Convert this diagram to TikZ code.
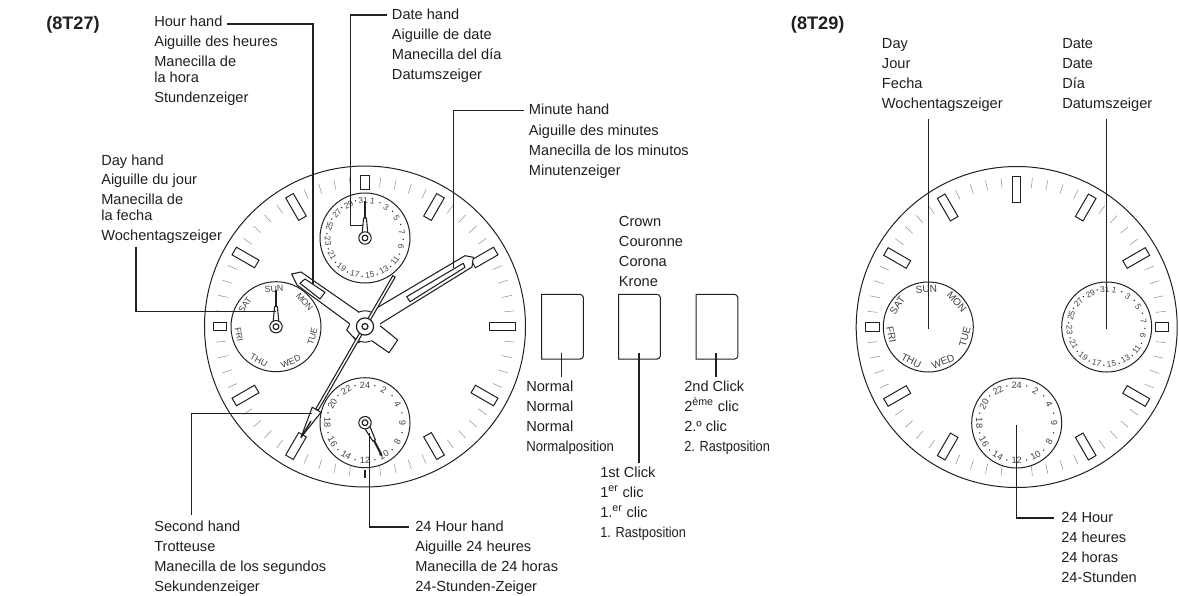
\documentclass[tikz,border=0pt]{standalone}
\usepackage{fontspec}
\setmainfont{Liberation Sans}
\newfontfamily\cond[FakeStretch=0.9]{Liberation Sans}
\newfontfamily\condb[FakeStretch=0.875]{Liberation Sans}
\definecolor{ink}{HTML}{231F20}
\definecolor{tickc}{HTML}{8A8889}
\tikzset{
  lab/.style={anchor=base west,inner sep=0pt,text height=7.1pt,text depth=1.1pt,text=ink,font=\fontsize{10.95}{13}\selectfont},
  ttl/.style={anchor=base west,inner sep=0pt,text=ink,font=\fontsize{13.6}{16}\selectfont\bfseries},
  lead/.style={draw=ink,line width=1.1pt},
  rimline/.style={draw=ink,line width=.75pt},
  minutick/.style={draw=tickc,line width=.35pt},
  handline/.style={draw=ink,line width=.8pt,fill=white,line join=round},
  dialnum/.style={inner sep=0pt,text=ink!85},
}
\newcommand\lbl[3]{\foreach \yy/\tx [count=\i from 0] in {#3} {\node[lab] (#1\i) at (#2,\yy) {\tx};}}
% watch face: centre x,y
\newcommand\face[2]{%
  \fill[white] (#1,#2) circle[radius=160.5];
  \draw[rimline] (#1,#2) circle[radius=160.5];
  \begin{scope}[shift={(#1,#2)}]
    \foreach \b in {0,30,...,330} {\foreach \o in {6,12,18,24} {
      \draw[minutick,rotate=-\b-\o] (0,-140) -- (0,-150);}}
    \foreach \b in {30,60,120,150,210,240,300,330} {
      \draw[rimline,rotate=-\b] (-4.4,-151) rectangle (4.4,-125);}
    \draw[draw=ink,line width=1.1pt] (0,143.5) -- (0,151);
  \end{scope}}
\newcommand\subcirc[2]{\draw[rimline,fill=white] (#1,#2) circle[radius=45];}
\newcommand\numat[5]{% prefix-name, angle, text, size, radius
  \pgfmathsetmacro\rr{cos(#2)>0.001 ? -(#2) : 180-(#2)}
  \node[dialnum,rotate=\rr,font=\fontsize{#4}{#4}\selectfont] (#1) at ({#5*sin(#2)},{-#5*cos(#2)}) {#3};}
\newcommand\dotat[1]{\fill[ink] ({38.3*sin(#1)},{-38.3*cos(#1)}) circle[radius=.75];}
\newcommand\datedial[4]{% x y prefix size
  \subcirc{#1}{#2}
  \begin{scope}[shift={(#1,#2)}]
    \foreach \v [count=\i from 0] in {1,3,...,31} {
      \pgfmathsetmacro\ang{11.4+23.05*\i}
      \numat{#3n\v}{\ang}{\v}{#4}{37.3}
      \pgfmathsetmacro\uu{\ang+11.5}
      \ifnum\v<31 \dotat{\uu}\fi}
  \end{scope}}
\newcommand\hourdial[4]{%
  \subcirc{#1}{#2}
  \begin{scope}[shift={(#1,#2)}]
    \foreach \v [count=\i from 1] in {2,4,...,24} {
      \pgfmathsetmacro\ang{30*\i}
      \numat{#3n\v}{\ang}{\v}{#4}{37.5}
      \pgfmathsetmacro\uu{\ang-15}
      \dotat{\uu}}
  \end{scope}}
\newcommand\daydial[4]{%
  \subcirc{#1}{#2}
  \begin{scope}[shift={(#1,#2)}]
    \foreach \v/\ang in {SUN/357,MON/49,TUE/105,WED/157,THU/207,FRI/258,SAT/305} {
      \numat{#3n\v}{\ang}{\v}{#4}{37.8}}
  \end{scope}}
\newcommand\subhand[3]{%
  \begin{scope}[shift={(#1,#2)},rotate=-#3]
    \draw[ink,line width=1.5pt] (0,-20) -- (0,-37);
    \draw[handline] (-2.8,-5) -- (-1.4,-20) -- (1.4,-20) -- (2.8,-5) -- cycle;
    \draw[handline] (0,0) circle[radius=6.2];
    \draw[handline,line width=.9pt] (0,0) circle[radius=2.9];
  \end{scope}}
\newcommand\crownbox[1]{%
  \draw[rimline] (#1,294.3) -- (#1+38.5,294.3) to[out=0,in=120] (#1+41.6,297.3) -- (#1+41.6,356) to[out=-90,in=0] (#1+38.5,359) -- (#1,359) -- cycle;}
\begin{document}
\begin{tikzpicture}[x=.75pt,y=-.75pt]
\useasboundingbox (0,0) rectangle (1179,596);
\fill[white] (0,0) rectangle (1179,596);

%% ---------- left watch ----------
\face{365}{326.5}
\draw[rimline,fill=white] (360.6,175.5) rectangle (369.4,189);
\draw[rimline] (489.7,322.2) rectangle (515.7,330.8);
\draw[rimline] (213,322.2) rectangle (226.7,330.8);
\datedial{365}{238}{la}{6.2}
\daydial{276}{326.7}{lb}{6.6}
\hourdial{365}{422.7}{lc}{6.8}

% hands
\coordinate (c) at (365,326.5);
\draw[handline] (350,324) -- (346.7,330) -- (358.3,342.7) -- (372,335) -- cycle;
\draw[handline] (380,325.7) -- (397.7,340) -- (389,352.7) -- (370.7,340) -- (360,330) -- cycle;
\draw[handline] (373.3,310) -- (465,255.7) -- (473.3,257.3) -- (472,267) -- (378.3,325) -- (365,330) -- cycle;
\draw[handline] (406.7,296.7) -- (463.3,263.3) -- (465,267.3) -- (410,301.7) -- cycle;
\draw[handline] (291.7,274) -- (301,272) -- (358.3,311.7) -- (365,326) -- (350,324) -- (297,285) -- cycle;
\draw[handline] (300,283.3) -- (305,279) -- (325,292.3) -- (320,299) -- cycle;
\fill[white] (c) circle[radius=15.2];
\draw[rimline] (c) ++(-65:15.7) arc[start angle=-65,end angle=-114,radius=15.7];
\draw[rimline] (c) ++(141:15.7) arc[start angle=141,end angle=70,radius=15.7];
\draw[handline] (395.2,277) -- (392.8,275.6) -- (315.8,408.9) -- (318.2,410.3) -- cycle;
\draw[handline] (312.2,407.2) -- (321,412.4) -- (301,437.4) -- cycle;
\draw[ink,line width=1pt] (311,421) -- (301,437.4);
\draw[handline,line width=.9pt] (c) circle[radius=8.6];
\draw[handline,line width=.9pt] (c) circle[radius=3];
\subhand{365}{238}{0}
\subhand{276}{326.7}{0}
\subhand{365}{422.7}{153}

% crown
\crownbox{541.7}
\crownbox{618.7}
\crownbox{696.2}

% labels
\node[ttl] (t27) at (46,29.7) {(8T27)};
\lbl{hr}{154}{26.5/Hour hand,46.5/Aiguille des heures,66.5/Manecilla de,82.5/la hora,102.5/Stundenzeiger}
\lbl{dy}{101}{165/Day hand,184.7/Aiguille du jour,204.5/Manecilla de,220.5/la fecha,240.5/Wochentagszeiger}
\lbl{dt}{391.7}{19/Date hand,39/Aiguille de date,59/Manecilla del día,79/Datumszeiger}
\lbl{mn}{528.7}{114.7/Minute hand,135/Aiguille des minutes,155/Manecilla de los minutos,175/Minutenzeiger}
\lbl{cr}{618.7}{226/Crown,246/Couronne,266/Corona,286/Krone}
\lbl{nm}{526}{391/Normal,411/Normal,431/Normal,451/{\cond Normalposition}}
\lbl{fc}{600}{477/1st Click,497/1\textsuperscript{er} clic,517/1.\textsuperscript{er} clic,537/{\condb 1. Rastposition}}
\lbl{sc}{684}{391/2nd Click,411/2\textsuperscript{ème} clic,431/2.º clic,451/{\condb 2. Rastposition}}
\lbl{se}{154}{531/Second hand,551/Trotteuse,571/Manecilla de los segundos,591/Sekundenzeiger}
\lbl{tf}{415}{531/24 Hour hand,551/Aiguille 24 heures,571/Manecilla de 24 horas,591/24-Stunden-Zeiger}

% leaders
\coordinate (hourTip) at (313,284);
\coordinate (dateBend) at (350.7,225.3);
\coordinate (dateTip) at (363.3,225.3);
\coordinate (minTip) at (453.7,268);
\coordinate (dayBend) at (136,311.7);
\coordinate (dayTip) at (276,311.7);
\coordinate (dayTop) at (136,247);
\coordinate (secTip) at (311.7,413.3);
\coordinate (secEnd) at (191.7,515);
\coordinate (tfTip) at (369.7,433);
\coordinate (nmTip) at (561.7,352.7);
\coordinate (fcTip) at (639,352.7);
\coordinate (scTip) at (716,352.7);
\draw[lead] ([shift={(4,1.5)}]hr0.east) -| (hourTip);
\draw[lead] (dateTip) -- (dateBend) |- ([xshift=-3.5pt]dt0.west);
\draw[lead] (minTip) |- ([xshift=-3.5pt]mn0.west);
\draw[lead] (dayTop) -- (dayBend) -- (dayTip);
\draw[lead] (secEnd) |- (secTip);
\draw[lead] (tfTip) |- ([xshift=-4.5pt]tf0.west);
\draw[lead] (nmTip) -- ([yshift=3.2pt]nmTip |- nm0.north);
\draw[lead] (fcTip) -- ([yshift=3.2pt]fcTip |- fc0.north);
\draw[lead] (scTip) -- ([yshift=3.2pt]scTip |- sc0.north);

%% ---------- right watch ----------
\face{1016.7}{327}
\draw[rimline] (1012.5,176) rectangle (1020.9,202.7);
\draw[rimline] (1155,322.7) rectangle (1168,331.3);
\draw[rimline] (865.7,322.7) rectangle (879,331.3);
\daydial{928.3}{327}{rb}{7.6}
\datedial{1106.7}{327}{ra}{6.2}
\hourdial{1016.7}{423}{rc}{6.9}

\node[ttl] (t29) at (790.7,29.3) {(8T29)};
\lbl{dr}{881.7}{48.3/Day,68.3/Jour,88.3/Fecha,108.3/Wochentagszeiger}
\lbl{er}{1062}{48.3/Date,68.3/Date,88.3/Día,108.3/Datumszeiger}
\lbl{hh}{1061}{522/24 Hour,542/24 heures,562/24 horas,582/24-Stunden}
\coordinate (rdayTip) at (928.3,329);
\coordinate (rdateTip) at (1106.7,329);
\coordinate (rhrTip) at (1016.7,425);
\draw[lead] (rdayTip) -- ([yshift=-6.5pt]rdayTip |- dr3.south);
\draw[lead] (rdateTip) -- ([yshift=-6.5pt]rdateTip |- er3.south);
\draw[lead] (rhrTip) |- ([xshift=-5pt]hh0.west);
\end{tikzpicture}
\end{document}
